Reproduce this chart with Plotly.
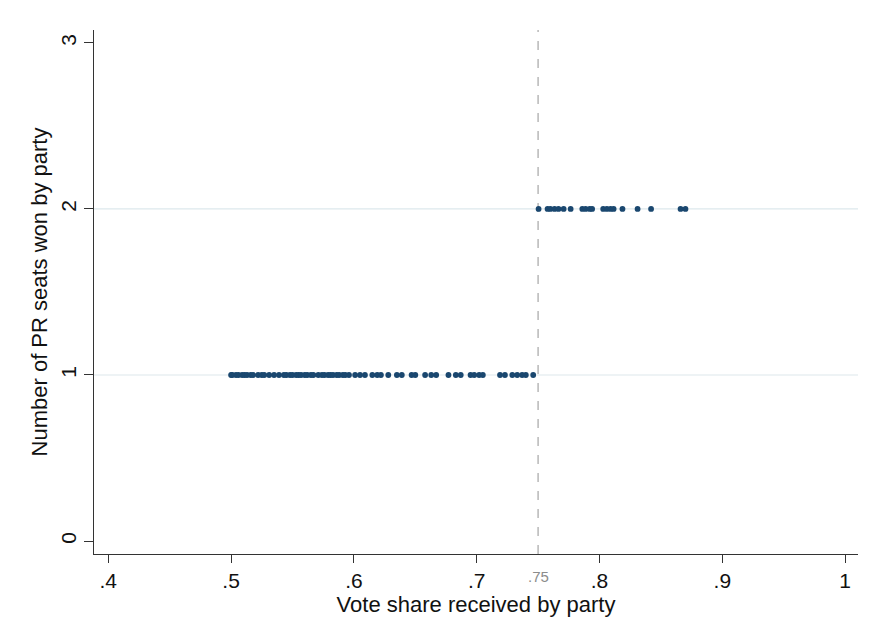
import plotly.graph_objects as go

# Vote shares of parties winning one PR seat
vote_share_1 = [0.500, 0.501, 0.504, 0.506, 0.509, 0.511, 0.513, 0.516, 0.518, 0.522,
                0.525, 0.527, 0.531, 0.535, 0.539, 0.543, 0.545, 0.548, 0.550, 0.553,
                0.555, 0.557, 0.560, 0.562, 0.565, 0.567, 0.571, 0.574, 0.576, 0.579,
                0.581, 0.583, 0.586, 0.588, 0.591, 0.593, 0.596, 0.601, 0.605, 0.609,
                0.615, 0.619, 0.622, 0.628, 0.635, 0.639, 0.647, 0.650, 0.658, 0.663,
                0.667, 0.677, 0.683, 0.687, 0.695, 0.698, 0.702, 0.705, 0.719, 0.723,
                0.729, 0.733, 0.737, 0.740, 0.746]
seats_1 = [1] * len(vote_share_1)

# Vote shares of parties winning two PR seats
vote_share_2 = [0.7504, 0.7577, 0.760, 0.7634, 0.7666, 0.7708, 0.7765, 0.786, 0.7887,
                0.792, 0.794, 0.803, 0.806, 0.809, 0.8115, 0.8187, 0.831, 0.842,
                0.866, 0.870]
seats_2 = [2] * len(vote_share_2)

x_tickvals = [0.4, 0.5, 0.6, 0.7, 0.8, 0.9, 1.0]
x_ticktext = [".4", ".5", ".6", ".7", ".8", ".9", "1"]
y_tickvals = [0, 1, 2, 3]
y_ticktext = ["0", "1", "2", "3"]
threshold = 0.75
threshold_label = ".75"
grid_levels = [1, 2]

navy = "#1a476f"
font_family = "Liberation Sans, Arial, sans-serif"

fig = go.Figure()
fig.add_trace(go.Scatter(
    x=vote_share_1 + vote_share_2,
    y=seats_1 + seats_2,
    mode="markers",
    marker=dict(color=navy, size=5.8, line=dict(width=0)),
    showlegend=False,
))

shapes = []
for g in grid_levels:
    shapes.append(dict(type="line", xref="paper", yref="y", x0=0, x1=1, y0=g, y1=g,
                       line=dict(color="#dde8ec", width=1.2), layer="below"))
shapes.append(dict(type="line", xref="x", yref="paper", x0=threshold, x1=threshold,
                   y0=0, y1=1, line=dict(color="#b8b8b8", width=1.5, dash="dash"),
                   layer="below"))

fig.update_layout(
    width=870, height=636,
    margin=dict(l=86, r=20, t=22, b=90),
    paper_bgcolor="white", plot_bgcolor="white",
    font=dict(family=font_family, color="#111111", size=21),
    shapes=shapes,
    annotations=[dict(x=threshold, y=0, xref="x", yref="paper", text=threshold_label,
                      showarrow=False, yanchor="top", yshift=-12,
                      font=dict(size=15, color="#8c8c8c", family=font_family))],
    xaxis=dict(
        range=[0.38836, 1.0105],
        tickvals=x_tickvals, ticktext=x_ticktext,
        ticks="outside", ticklen=8, tickwidth=1.2, tickcolor="#333333",
        showline=True, linecolor="#333333", linewidth=1.2,
        showgrid=False, zeroline=False,
        tickfont=dict(size=21),
        title=dict(text="Vote share received by party", font=dict(size=22), standoff=0),
    ),
    yaxis=dict(
        range=[-0.0783, 3.078],
        tickvals=y_tickvals, ticktext=y_ticktext, tickangle=-90,
        ticks="outside", ticklen=9, tickwidth=1.2, tickcolor="#333333",
        showline=True, linecolor="#333333", linewidth=1.2,
        showgrid=False, zeroline=False,
        tickfont=dict(size=21),
        title=dict(text="Number of PR seats won by party", font=dict(size=22), standoff=2),
    ),
)

fig.write_html("out.html")
